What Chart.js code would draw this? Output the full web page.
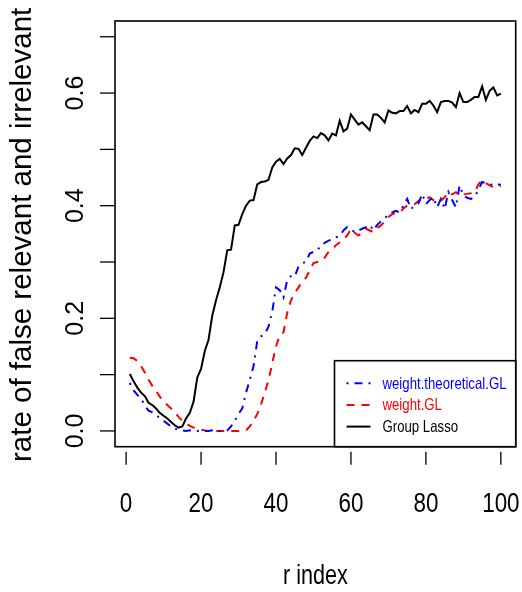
<!DOCTYPE html>
<html>
<head>
<meta charset="utf-8">
<script src="https://cdn.jsdelivr.net/npm/chart.js@4/dist/chart.umd.min.js"></script>
<style>
  html, body { margin: 0; padding: 0; background: #fff; }
  #wrap { width: 522px; height: 592px; }
</style>
</head>
<body>
<div id="wrap"><canvas id="chart_rateFalse" width="522" height="592"></canvas></div>
<script>
// r index 1..100 (category axis of the plot)
const rIndex = Array.from({ length: 100 }, (_, i) => i + 1);

const xTicks = [0, 20, 40, 60, 80, 100];
const yTicks = [0, 0.1, 0.2, 0.3, 0.4, 0.5, 0.6, 0.7];
const yTickLabels = ['0.0', '', '0.2', '', '0.4', '', '0.6', ''];

const seriesNames = ['weight.theoretical.GL', 'weight.GL', 'Group Lasso'];

const weightTheoreticalGL = [
  0.085, 0.072, 0.064, 0.058, 0.045, 0.036, 0.033, 0.028, 0.023, 0.018,
  0.013, 0.008, 0.004, 0.002, 0.001, 0.000, 0.001, 0.000, 0.000, 0.001,
  0.000, 0.000, 0.001, 0.000, 0.000, 0.000, 0.001, 0.008, 0.018, 0.030,
  0.040, 0.068, 0.090, 0.115, 0.160, 0.168, 0.172, 0.185, 0.212, 0.255,
  0.250, 0.237, 0.268, 0.275, 0.274, 0.292, 0.298, 0.300, 0.315, 0.318,
  0.320, 0.330, 0.334, 0.338, 0.340, 0.344, 0.346, 0.356, 0.362, 0.358,
  0.353, 0.356, 0.359, 0.362, 0.366, 0.356, 0.366, 0.372, 0.377, 0.385,
  0.388, 0.391, 0.388, 0.400, 0.412, 0.394, 0.400, 0.404, 0.421, 0.403,
  0.410, 0.415, 0.397, 0.412, 0.394, 0.424, 0.410, 0.397, 0.436, 0.418,
  0.414, 0.412, 0.415, 0.428, 0.442, 0.440, 0.439, 0.436, 0.438, 0.437
];

const weightGL = [
  0.130, 0.129, 0.124, 0.115, 0.104, 0.091, 0.080, 0.071, 0.061, 0.053,
  0.046, 0.040, 0.033, 0.025, 0.018, 0.013, 0.009, 0.006, 0.004, 0.002,
  0.001, 0.000, 0.001, 0.000, 0.000, 0.000, 0.000, 0.000, 0.000, 0.000,
  0.000, 0.001, 0.008, 0.018, 0.030, 0.047, 0.068, 0.090, 0.120, 0.150,
  0.170, 0.175, 0.210, 0.232, 0.245, 0.255, 0.265, 0.272, 0.285, 0.298,
  0.300, 0.302, 0.308, 0.318, 0.322, 0.330, 0.335, 0.341, 0.347, 0.359,
  0.352, 0.347, 0.352, 0.359, 0.356, 0.353, 0.360, 0.365, 0.372, 0.380,
  0.385, 0.387, 0.388, 0.395, 0.400, 0.401, 0.403, 0.408, 0.412, 0.413,
  0.415, 0.410, 0.406, 0.409, 0.415, 0.424, 0.420, 0.424, 0.418, 0.420,
  0.421, 0.422, 0.424, 0.438, 0.445, 0.440, 0.436, 0.433, 0.434, 0.435
];

const groupLasso = [
  0.101, 0.088, 0.077, 0.068, 0.062, 0.050, 0.046, 0.040, 0.032, 0.027,
  0.022, 0.016, 0.010, 0.006, 0.008, 0.022, 0.032, 0.052, 0.095, 0.110,
  0.142, 0.162, 0.205, 0.232, 0.255, 0.282, 0.321, 0.322, 0.365, 0.366,
  0.385, 0.400, 0.409, 0.410, 0.438, 0.442, 0.443, 0.446, 0.468, 0.478,
  0.483, 0.474, 0.484, 0.490, 0.502, 0.501, 0.490, 0.503, 0.515, 0.523,
  0.520, 0.529, 0.525, 0.516, 0.528, 0.525, 0.551, 0.532, 0.537, 0.562,
  0.553, 0.544, 0.548, 0.541, 0.534, 0.562, 0.562, 0.556, 0.548, 0.569,
  0.565, 0.564, 0.568, 0.568, 0.577, 0.564, 0.570, 0.566, 0.581, 0.581,
  0.586, 0.578, 0.566, 0.584, 0.586, 0.586, 0.583, 0.575, 0.600, 0.584,
  0.584, 0.588, 0.593, 0.593, 0.612, 0.588, 0.604, 0.610, 0.596, 0.599
];

const SANS = '"Liberation Sans", Arial, Helvetica, sans-serif';
// horizontal text in the original is squeezed (narrow face)
const SQUEEZE = 0.8;

function narrowText(ctx, text, x, y) {
  ctx.save();
  ctx.scale(SQUEEZE, 1);
  ctx.fillText(text, x / SQUEEZE, y);
  ctx.restore();
}

// R-style frame, axes, titles and inset legend
const baseGraphics = {
  id: 'baseGraphics',
  afterDraw: (chart) => {
    const ctx = chart.ctx;
    const a = chart.chartArea;
    const x = chart.scales.x;
    const y = chart.scales.y;
    ctx.save();
    ctx.strokeStyle = '#000';
    ctx.fillStyle = '#000';

    // plot box
    ctx.lineWidth = 1.6;
    ctx.strokeRect(a.left, a.top, a.right - a.left, a.bottom - a.top);

    // x axis ticks + labels
    ctx.lineWidth = 1.3;
    ctx.font = '28px ' + SANS;
    ctx.textAlign = 'center';
    ctx.textBaseline = 'alphabetic';
    xTicks.forEach(v => {
      const px = x.getPixelForValue(v);
      ctx.beginPath();
      ctx.moveTo(px, a.bottom + 5);
      ctx.lineTo(px, a.bottom + 18);
      ctx.stroke();
      narrowText(ctx, String(v), px, a.bottom + 65);
    });

    // y axis ticks + rotated labels
    ctx.font = '25px ' + SANS;
    yTicks.forEach((v, i) => {
      const py = y.getPixelForValue(v);
      ctx.beginPath();
      ctx.moveTo(a.left - 15, py);
      ctx.lineTo(a.left, py);
      ctx.stroke();
      if (yTickLabels[i]) {
        ctx.save();
        ctx.translate(a.left - 32, py);
        ctx.rotate(-Math.PI / 2);
        ctx.fillText(yTickLabels[i], 0, 0);
        ctx.restore();
      }
    });

    // axis titles
    ctx.font = '27px ' + SANS;
    narrowText(ctx, 'r index', (a.left + a.right) / 2, 584);
    ctx.save();
    ctx.font = '29.5px ' + SANS;
    ctx.translate(31, (a.top + a.bottom) / 2 + 1);
    ctx.rotate(-Math.PI / 2);
    ctx.fillText('rate of false relevant and irrelevant', 0, 0);
    ctx.restore();

    // legend box in the bottom-right corner
    const lx = 334.5, ly = 360.7;
    ctx.fillStyle = '#fff';
    ctx.fillRect(lx, ly, a.right - lx, a.bottom - ly);
    ctx.lineWidth = 1.6;
    ctx.strokeRect(lx, ly, a.right - lx, a.bottom - ly);
    ctx.font = '16.5px ' + SANS;
    ctx.textAlign = 'left';
    ctx.textBaseline = 'middle';
    chart.data.datasets.forEach((ds, i) => {
      const ry = ly + 22.5 + i * 21.7;
      ctx.strokeStyle = ds.borderColor;
      ctx.lineWidth = ds.borderWidth;
      ctx.setLineDash(ds.borderDash || []);
      ctx.beginPath();
      ctx.moveTo(lx + 12, ry);
      ctx.lineTo(lx + 36, ry);
      ctx.stroke();
      ctx.setLineDash([]);
      ctx.fillStyle = ds.borderColor;
      narrowText(ctx, ds.label, lx + 48, ry + 1);
    });
    ctx.restore();
  }
};

const chart_rateFalse = new Chart(document.getElementById('chart_rateFalse'), {
  type: 'line',
  data: {
    labels: rIndex,
    datasets: [
      {
        label: seriesNames[0],
        data: weightTheoreticalGL,
        borderColor: '#0000ff',
        borderWidth: 2,
        borderDash: [2, 6, 8, 6],
        pointRadius: 0,
        tension: 0
      },
      {
        label: seriesNames[1],
        data: weightGL,
        borderColor: '#ff0000',
        borderWidth: 2,
        borderDash: [8, 7],
        pointRadius: 0,
        tension: 0
      },
      {
        label: seriesNames[2],
        data: groupLasso,
        borderColor: '#000000',
        borderWidth: 2,
        pointRadius: 0,
        tension: 0
      }
    ]
  },
  options: {
    animation: false,
    responsive: false,
    maintainAspectRatio: false,
    layout: { padding: { top: 21, right: 6.3, left: 0, bottom: 0 } },
    plugins: {
      legend: { display: false },
      title: { display: false },
      tooltip: { enabled: false }
    },
    scales: {
      x: {
        type: 'linear',
        min: -2.96,
        max: 103.96,
        grid: { display: false },
        border: { display: false },
        ticks: { display: false },
        afterFit: (s) => { s.height = 145.3; }
      },
      y: {
        type: 'linear',
        min: -0.028,
        max: 0.728,
        grid: { display: false },
        border: { display: false },
        ticks: { display: false },
        afterFit: (s) => { s.width = 115; }
      }
    }
  },
  plugins: [baseGraphics]
});
</script>
</body>
</html>
